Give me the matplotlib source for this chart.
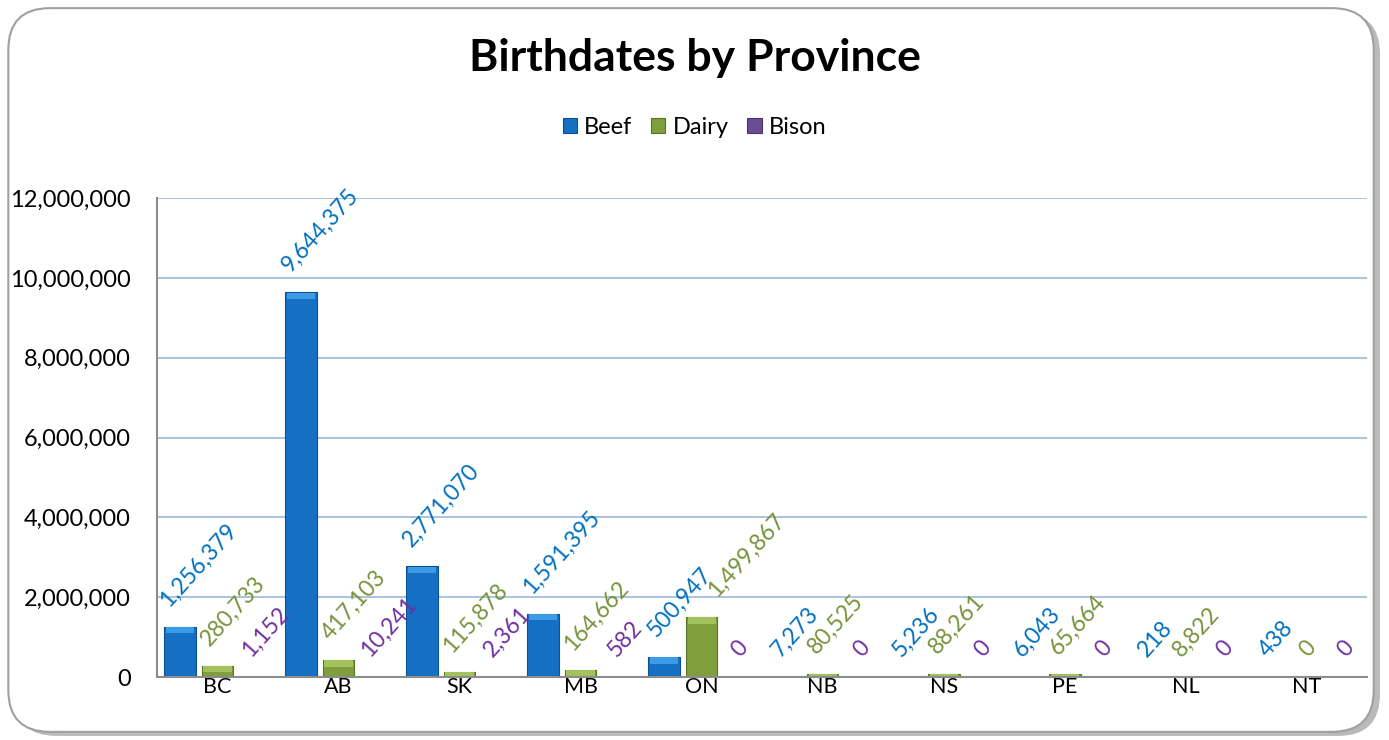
import numpy as np
import matplotlib.pyplot as plt
from matplotlib.patches import FancyBboxPatch
from matplotlib.ticker import FuncFormatter
import matplotlib.transforms as mtransforms

plt.rcParams['font.family'] = ['Lato', 'DejaVu Sans']

# data
provinces = ['BC', 'AB', 'SK', 'MB', 'ON', 'NB', 'NS', 'PE', 'NL', 'NT']
beef = [1256379, 9644375, 2771070, 1591395, 500947, 7273, 5236, 6043, 218, 438]
dairy = [280733, 417103, 115878, 164662, 1499867, 80525, 88261, 65664, 8822, 0]
bison = [1152, 10241, 2361, 582, 0, 0, 0, 0, 0, 0]

series_names = ['Beef', 'Dairy', 'Bison']
bar_colors = ['#1570c4', '#7f9f3c', '#6a4c93']
edge_colors = ['#0d4f8f', '#5a7427', '#4a3370']
cap_colors = ['#3d9be6', '#a3c25e', '#8e70b8']
label_colors = ['#0070c0', '#77933c', '#7030a0']
# the one label that Excel pushed sideways (pixels)
label_nudge = {(1, 'ON'): (26, 0)}

fig = plt.figure(figsize=(13.89, 7.40), dpi=100)

# chart area: rounded box with a shadow
shadow = FancyBboxPatch((0.0105, 0.0055), 0.983, 0.978,
                        boxstyle='round,pad=0,rounding_size=0.03',
                        transform=fig.transFigure, facecolor='#8c8c8c',
                        edgecolor='none', alpha=0.6, zorder=-2, mutation_aspect=1.88)
fig.patches.append(shadow)
frame = FancyBboxPatch((0.006, 0.011), 0.983, 0.978,
                       boxstyle='round,pad=0,rounding_size=0.03',
                       transform=fig.transFigure, facecolor='white',
                       edgecolor='#a0a0a0', linewidth=1.5, zorder=-1,
                       mutation_aspect=1.88)
fig.patches.append(frame)

ax = fig.add_axes([0.113, 0.0851, 0.8715, 0.6473])
ax.set_facecolor('none')

x = np.arange(len(provinces))
step = 0.31
width = 0.26
cap = 180000  # height of the lighter bevel on top of each bar
all_series = [beef, dairy, bison]

for i, vals in enumerate(all_series):
    pos = x + (i - 1) * step
    vals = np.array(vals)
    ax.bar(pos, vals, width, color=bar_colors[i], edgecolor=edge_colors[i],
           linewidth=0.8, label=series_names[i], zorder=3)
    caps = np.minimum(vals, cap) * 0.9
    ax.bar(pos, caps, width * 0.9, bottom=vals - caps - vals * 0.002,
           color=cap_colors[i], linewidth=0, zorder=3.5)
    for px, v, prov in zip(pos, vals, provinces):
        txt = f'{v:,}'
        nx, ny = label_nudge.get((i, prov), (0, 0))
        # longer labels start a bit further left, like Excel does
        dx = 3.2 - 1.575 * len(txt)
        off = mtransforms.offset_copy(ax.transData, fig=fig, x=dx + nx,
                                      y=19 + ny, units='dots')
        ax.text(px, v, txt, transform=off, rotation=48,
                rotation_mode='anchor', ha='left', va='baseline',
                fontsize=16.5, color=label_colors[i], zorder=4)

ax.set_xlim(-0.5, len(provinces) - 0.5)
ax.set_ylim(0, 12000000)
ax.set_yticks(np.arange(0, 12000001, 2000000))
ax.yaxis.set_major_formatter(FuncFormatter(lambda v, p: f'{int(v):,}'))
ax.set_xticks(x)
ax.set_xticklabels(provinces)
ax.tick_params(axis='y', length=0, pad=19, labelsize=17)
ax.tick_params(axis='x', length=0, pad=0, labelsize=15.5)
ax.grid(axis='y', color='#9db7d9', linewidth=1.2, zorder=0)
for s in ['top', 'right']:
    ax.spines[s].set_visible(False)
for s in ['left', 'bottom']:
    ax.spines[s].set_color('#8c8c8c')
    ax.spines[s].set_linewidth(1.5)
    ax.spines[s].set_zorder(5)

fig.text(0.5, 0.922, 'Birthdates by Province', ha='center', va='center',
         fontsize=32, fontweight='bold')
fig.legend(loc='center', bbox_to_anchor=(0.5, 0.828), ncol=3, frameon=False,
           fontsize=17, handlelength=0.6, handleheight=0.6, handletextpad=0.3,
           columnspacing=0.8)

fig.savefig('out.png', dpi=100)
